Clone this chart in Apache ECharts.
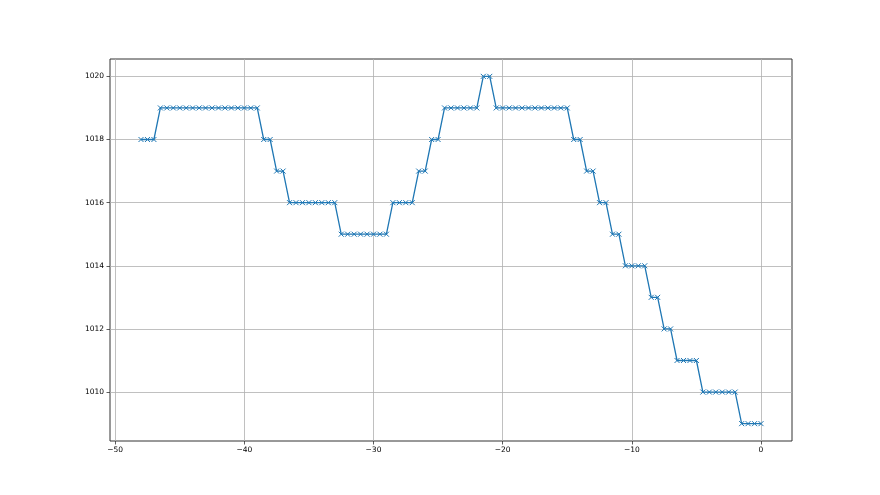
<!DOCTYPE html>
<html>
<head>
<meta charset="utf-8">
<script src="https://cdn.jsdelivr.net/npm/echarts@6/dist/echarts.min.js"></script>
<style>html,body{margin:0;padding:0;background:#fff}#c{width:880px;height:495px}</style>
</head>
<body>
<div id="c"></div>
<script>
const xValues = [-48,-47.5,-47,-46.5,-46,-45.5,-45,-44.5,-44,-43.5,-43,-42.5,-42,-41.5,-41,-40.5,-40,-39.5,-39,
 -38.5,-38,-37.5,-37,-36.5,-36,-35.5,-35,-34.5,-34,-33.5,-33,-32.5,-32,-31.5,-31,-30.5,-30,-29.5,-29,
 -28.5,-28,-27.5,-27,-26.5,-26,-25.5,-25,-24.5,-24,-23.5,-23,-22.5,-22,-21.5,-21,-20.5,-20,-19.5,-19,
 -18.5,-18,-17.5,-17,-16.5,-16,-15.5,-15,-14.5,-14,-13.5,-13,-12.5,-12,-11.5,-11,-10.5,-10,-9.5,-9,
 -8.5,-8,-7.5,-7,-6.5,-6,-5.5,-5,-4.5,-4,-3.5,-3,-2.5,-2,-1.5,-1,-0.5,0];
const pressure = [1018,1018,1018,
 1019,1019,1019,1019,1019,1019,1019,1019,1019,1019,1019,1019,1019,1019,1019,1019,
 1018,1018,1017,1017,
 1016,1016,1016,1016,1016,1016,1016,1016,
 1015,1015,1015,1015,1015,1015,1015,1015,
 1016,1016,1016,1016,
 1017,1017,1018,1018,
 1019,1019,1019,1019,1019,1019,
 1020,1020,
 1019,1019,1019,1019,1019,1019,1019,1019,1019,1019,1019,1019,
 1018,1018,1017,1017,1016,1016,1015,1015,
 1014,1014,1014,1014,
 1013,1013,1012,1012,
 1011,1011,1011,1011,
 1010,1010,1010,1010,1010,1010,
 1009,1009,1009,1009];
const xTicks = [-50,-40,-30,-20,-10,0];
const yTicks = [1010,1012,1014,1016,1018,1020];

const data = xValues.map((x,i)=>[x,pressure[i]]);
const font = 'DejaVu Sans';
const fmt = v => String(v).replace('-', '\u2212');
const chart = echarts.init(document.getElementById('c'), null, {renderer:'canvas'});
chart.setOption({
  animation:false,
  backgroundColor:'#fff',
  grid:{left:110,right:88,top:59,bottom:54,show:true,borderColor:'#333',borderWidth:1,backgroundColor:'transparent'},
  xAxis:{type:'value',min:-50.4,max:2.4,
    axisLine:{show:false,onZero:false},
    axisTick:{show:true,length:3.5,customValues:xTicks,lineStyle:{color:'#333',width:0.8}},
    axisLabel:{customValues:xTicks,formatter:fmt,color:'#000',fontFamily:font,fontSize:7.5,margin:5},
    splitLine:{show:true,lineStyle:{color:'#b0b0b0',width:0.8}}},
  yAxis:{type:'value',min:1008.45,max:1020.55,
    axisLine:{show:false,onZero:false},
    axisTick:{show:true,length:3.5,customValues:yTicks,lineStyle:{color:'#333',width:0.8}},
    axisLabel:{customValues:yTicks,formatter:fmt,color:'#000',fontFamily:font,fontSize:7.5,margin:6},
    splitLine:{show:true,lineStyle:{color:'#b0b0b0',width:0.8}}},
  series:[{type:'line',data:data,
    lineStyle:{color:'#1f77b4',width:1.3},
    symbol:'path://M0,0L10,10M10,0L0,10',symbolSize:5,showAllSymbol:true,
    itemStyle:{color:'#1f77b4',borderColor:'#1f77b4',borderWidth:1}}]
});
</script>
</body>
</html>
